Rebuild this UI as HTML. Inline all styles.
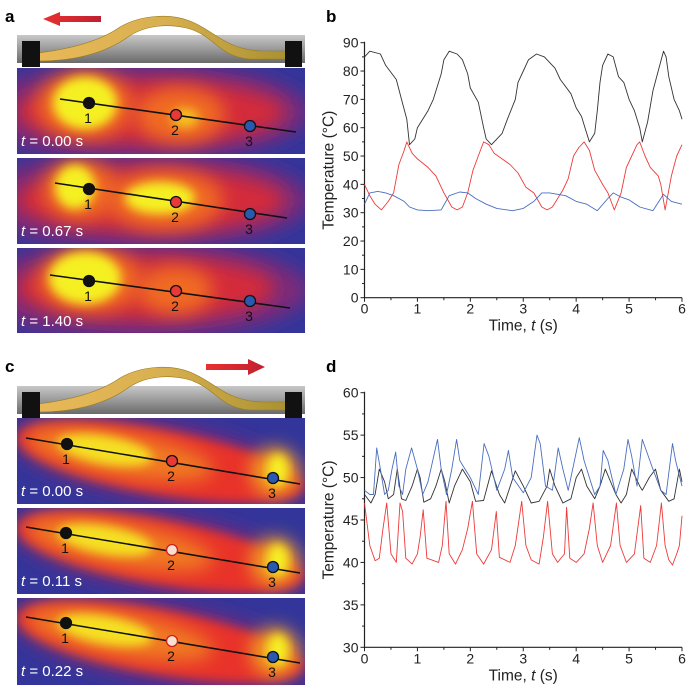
<!DOCTYPE html>
<html><head><meta charset="utf-8"><style>
html,body{margin:0;padding:0;background:#fff;}
svg{display:block;font-family:"Liberation Sans",sans-serif;}
</style></head><body>
<svg id="fig" width="700" height="691" viewBox="0 0 700 691" xmlns="http://www.w3.org/2000/svg">
<defs>
<filter id="blur8" x="-30%" y="-60%" width="160%" height="220%"><feGaussianBlur stdDeviation="9"/></filter>
<filter id="blur5" x="-30%" y="-60%" width="160%" height="220%"><feGaussianBlur stdDeviation="5"/></filter>
<linearGradient id="base" x1="0" y1="0" x2="0" y2="1"><stop offset="0" stop-color="#c8c8c8"/><stop offset="0.5" stop-color="#9a9a9a"/><stop offset="1" stop-color="#6a6a6a"/></linearGradient>
<linearGradient id="rib" x1="0" y1="0" x2="1" y2="0"><stop offset="0" stop-color="#e8b858"/><stop offset="0.5" stop-color="#d8b050"/><stop offset="1" stop-color="#a89030"/></linearGradient>
<linearGradient id="arrowL" x1="0" y1="0" x2="1" y2="0"><stop offset="0" stop-color="#e83030"/><stop offset="1" stop-color="#c02030"/></linearGradient>
<clipPath id="c1"><rect x="17" y="68" width="288" height="86"/></clipPath>
<clipPath id="c2"><rect x="17" y="158" width="288" height="86"/></clipPath>
<clipPath id="c3"><rect x="17" y="248" width="288" height="85"/></clipPath>
<clipPath id="c4"><rect x="17" y="418" width="288" height="86"/></clipPath>
<clipPath id="c5"><rect x="17" y="508" width="288" height="86"/></clipPath>
<clipPath id="c6"><rect x="17" y="598" width="288" height="87"/></clipPath>
</defs>

<text x="5" y="22" font-size="17" font-weight="bold">a</text>
<text x="326" y="22" font-size="17" font-weight="bold">b</text>
<text x="5" y="372" font-size="17" font-weight="bold">c</text>
<text x="326" y="372" font-size="17" font-weight="bold">d</text>

<g id="devA"></g>
<g id="devC"></g>
<g id="thermal"></g>
<g id="chartB"></g>
<g id="chartD"></g>
</svg>
<script>
// ---------- Chart b data ----------
const bXTicks = [0,1,2,3,4,5,6];
const bYTicks = [0,10,20,30,40,50,60,70,80,90];
const bBlackT = [0,0.1,0.3,0.4,0.6,0.7,0.8,0.85,0.95,1.0,1.2,1.3,1.45,1.5,1.6,1.75,1.85,1.95,2.0,2.15,2.25,2.3,2.4,2.6,2.7,2.85,2.9,3.0,3.1,3.25,3.4,3.6,3.7,3.9,4.0,4.1,4.15,4.25,4.35,4.4,4.45,4.5,4.6,4.7,4.8,4.9,5.0,5.1,5.2,5.25,5.35,5.45,5.55,5.65,5.7,5.75,5.85,5.95,6.0];
const bBlackV = [85,87,86,82,77,70,63,54,56,60,66,70,79,84,87,86,84,79,74,69,60,56,54,58,63,70,76,80,84,86,85,81,77,72,67,64,61,55,58,66,76,82,86,85,78,76,70,66,60,55,62,73,80,87,85,78,70,66,63];
const bRedT = [0,0.1,0.2,0.32,0.45,0.55,0.65,0.75,0.8,0.9,1.0,1.2,1.35,1.5,1.65,1.75,1.85,1.95,2.05,2.15,2.25,2.35,2.45,2.6,2.75,2.9,3.05,3.2,3.35,3.45,3.55,3.75,3.85,3.95,4.05,4.15,4.25,4.35,4.5,4.6,4.72,4.85,4.95,5.05,5.15,5.2,5.3,5.4,5.55,5.6,5.68,5.8,5.9,6.0];
const bRedV = [40,36,33,31,34,37,47,52,55,51,49,46,43,37,32,31,32,37,45,50,55,54,51,49,47,44,39,37,32,31,32,38,42,50,53,55,52,45,40,37,31,37,46,50,54,55,50,46,43,40,31,43,50,54];
const bBlueT = [0,0.1,0.25,0.4,0.55,0.75,0.85,1.0,1.2,1.45,1.6,1.8,1.95,2.1,2.3,2.5,2.8,3.0,3.2,3.35,3.5,3.8,4.0,4.2,4.4,4.6,4.7,4.85,5.0,5.2,5.45,5.65,5.8,6.0];
const bBlueV = [33,37,37.5,37,36,34,32,31,30.7,31,36,37.3,37,35,33,31.5,30.7,31.5,34,37,37,36,34,33,30.7,35,37,35.5,34.5,32,30.7,36.5,34,33];

// ---------- Chart d data ----------
const dXTicks = [0,1,2,3,4,5,6];
const dYTicks = [30,35,40,45,50,55,60];
const dRedT = [0,0.1,0.2,0.28,0.35,0.42,0.5,0.6,0.67,0.72,0.78,0.9,1.0,1.05,1.11,1.18,1.4,1.47,1.54,1.6,1.72,1.85,1.95,2.04,2.12,2.25,2.4,2.49,2.55,2.75,2.85,2.97,3.05,3.15,3.3,3.38,3.46,3.55,3.65,3.78,3.82,3.88,4.0,4.15,4.25,4.32,4.4,4.5,4.65,4.76,4.83,4.95,5.1,5.22,5.28,5.4,5.52,5.61,5.68,5.75,5.82,5.9,5.95,6.0];
const dRedV = [47,42,40.2,40.5,44,47,41,40,47,46,40.5,39.8,41,43,46.2,40.5,40,42,47.2,41,39.8,41.5,44,47.2,41,39.8,41.5,46,40.6,40,42,47.2,42,40.3,39.8,43,47.2,41,40,41,46.5,40.5,40,41,44,47,42,40,42,47,42,40,41,46.7,40.5,40,42,47,42,40.3,39.7,41,42,45.5];
const dBlueT = [0,0.1,0.17,0.23,0.3,0.38,0.45,0.52,0.59,0.65,0.72,0.78,0.89,1.0,1.1,1.2,1.38,1.45,1.55,1.65,1.74,1.8,2.0,2.15,2.26,2.35,2.5,2.65,2.72,2.8,3.0,3.15,3.26,3.32,3.42,3.55,3.66,3.75,3.85,4.06,4.15,4.35,4.45,4.51,4.6,4.75,4.9,4.98,5.05,5.15,5.25,5.45,5.6,5.7,5.82,5.88,6.0];
const dBlueV = [48.5,48,48,53.5,51,48,48.5,51,53,49,48,51,53.5,51,48,49.5,54.5,51,48,51,54.5,52,50,48,54,52.5,48.5,51,53.2,50,48.2,50,55,54,49,48.5,53.5,51,48.5,54.7,52,48,49,53.2,52,48,51,54.5,52.5,49,54.5,51,48.5,48,54,52,49];
const dBlackT = [0,0.12,0.2,0.28,0.38,0.45,0.55,0.62,0.7,0.78,0.9,1.0,1.05,1.12,1.25,1.35,1.45,1.52,1.6,1.7,1.85,2.0,2.1,2.25,2.4,2.55,2.65,2.85,3.0,3.15,3.3,3.45,3.5,3.6,3.75,3.9,4.0,4.1,4.2,4.35,4.45,4.55,4.75,4.85,4.95,5.05,5.2,5.25,5.38,5.5,5.6,5.75,5.85,5.95,6.0];
const dBlackV = [48,47,48,51,49.5,47.5,48,51,47.5,47.3,49,51,50,47.1,47.5,49,51,49.5,47,49,51,49.5,47.2,47.3,50.8,48,47,50.8,49,47,47.2,49,51,49,47,47.5,50,51,49,47.5,49,51,48,47,48,51,49,48.5,50,51,48.5,47.2,47.5,51,49.5];

const NS = "http://www.w3.org/2000/svg";
function mk(tag, attrs, parent){const e=document.createElementNS(NS,tag);for(const k in attrs)e.setAttribute(k,attrs[k]);if(parent)parent.appendChild(e);return e;}

function drawChart(g, cfg){
  const X0=364.5, X1=682, Y0=cfg.yBottom, Y1=cfg.yTop;
  const sx=t=>X0+(t-0)/(6-0)*(X1-X0);
  const sy=v=>Y0-(v-cfg.yMin)/(cfg.yMax-cfg.yMin)*(Y0-Y1);
  const axis=mk('path',{d:`M${X0},${Y1-1}V${Y0}H${X1}`,stroke:'#222',fill:'none','stroke-width':1.2},g);
  
  
  cfg.xTicks.forEach(t=>{
    const tk=mk('line',{x1:sx(t),x2:sx(t),y1:Y0,y2:Y0+4,stroke:'#222'},g);
    
    
    const lb=mk('text',{x:sx(t),y:Y0+16,'text-anchor':'middle','font-size':14,fill:'#222'},g);
    
    
    lb.textContent=t;
    if(t<6){const m=mk('line',{x1:sx(t+0.5),x2:sx(t+0.5),y1:Y0,y2:Y0+2.5,stroke:'#222'},g);
      
      }
  });
  cfg.yTicks.forEach((v,i)=>{
    const tk=mk('line',{x1:X0-4,x2:X0,y1:sy(v),y2:sy(v),stroke:'#222'},g);
    
    
    const lb=mk('text',{x:X0-6,y:sy(v)+5,'text-anchor':'end','font-size':14,fill:'#222'},g);
    
    
    lb.textContent=v;
    if(i<cfg.yTicks.length-1){const mv=(v+cfg.yTicks[i+1])/2;
      const m=mk('line',{x1:X0-2.5,x2:X0,y1:sy(mv),y2:sy(mv),stroke:'#222'},g);
      
      }
  });
  const xt=mk('text',{x:(X0+X1)/2,y:Y0+33,'text-anchor':'middle','font-size':15.5,fill:'#222'},g);
  
  
  xt.innerHTML='Time, <tspan font-style="italic">t</tspan> (s)';
  const yt=mk('text',{x:0,y:0,'text-anchor':'middle','font-size':15.5,fill:'#222',transform:`translate(${X0-31},${(Y0+Y1)/2}) rotate(-90)`},g);
  
  
  yt.textContent='Temperature (°C)';
  cfg.series.forEach(s=>{
    const d=s.t.map((t,i)=>(i?'L':'M')+sx(t).toFixed(1)+','+sy(s.v[i]).toFixed(1)).join('');
    const p=mk('path',{d:d,stroke:s.color,fill:'none','stroke-width':0.9,'stroke-linejoin':'round'},g);
    
    
  });
}
drawChart(document.getElementById('chartB'),{yBottom:297.7,yTop:42.7,yMin:0,yMax:90,xTicks:bXTicks,yTicks:bYTicks,
  series:[{t:bBlackT,v:bBlackV,color:'#333',name:'series-point-1'},{t:bRedT,v:bRedV,color:'#ee3a3a',name:'series-point-2'},{t:bBlueT,v:bBlueV,color:'#4a6ec0',name:'series-point-3'}]});
drawChart(document.getElementById('chartD'),{yBottom:647.3,yTop:392.7,yMin:30,yMax:60,xTicks:dXTicks,yTicks:dYTicks,
  series:[{t:dRedT,v:dRedV,color:'#ee3a3a',name:'series-point-2'},{t:dBlackT,v:dBlackV,color:'#333',name:'series-point-1'},{t:dBlueT,v:dBlueV,color:'#4a6ec0',name:'series-point-3'}]});

// ---------- device illustrations ----------
function device(g, y0, arrowDir){
  const base=mk('rect',{x:17,y:y0+30,width:288,height:28,fill:'url(#base)'},g);
  
  
  const rib=mk('path',{d:`M38,${y0+48} C70,${y0+44} 100,${y0+36} 120,${y0+22} C140,${y0+10} 170,${y0+8} 190,${y0+16} C215,${y0+26} 225,${y0+44} 260,${y0+46} L290,${y0+46} L290,${y0+54} L250,${y0+54} C220,${y0+52} 215,${y0+32} 190,${y0+24} C170,${y0+18} 145,${y0+20} 128,${y0+32} C108,${y0+46} 80,${y0+56} 38,${y0+56} Z`,fill:'url(#rib)',stroke:'#9a7a20','stroke-width':0.6},g);
  
  
  const c1=mk('rect',{x:22,y:y0+36,width:18,height:26,fill:'#111'},g);
  
  
  const c2=mk('rect',{x:285,y:y0+36,width:17,height:26,fill:'#111'},g);
  
  
  let ap;
  if(arrowDir<0) ap=`M101,${y0+11} L60,${y0+11} L60,${y0+7} L43,${y0+14} L60,${y0+21} L60,${y0+17} L101,${y0+17} Z`;
  else ap=`M206,${y0+8} L248,${y0+8} L248,${y0+3} L265,${y0+11} L248,${y0+19} L248,${y0+14} L206,${y0+14} Z`;
  const ar=mk('path',{d:ap,fill:'url(#arrowL)'},g);
  
  
}
device(document.getElementById('devA'),5,-1);
device(document.getElementById('devC'),356,1);

// ---------- thermal images ----------
const TH=document.getElementById('thermal');
function thermal(clip, y, tlabel, blobs, pts, line, hollow2){
  const g=mk('g',{'clip-path':`url(#${clip})`},TH);
  
  
  mk('rect',{x:17,y:y,width:288,height:87,fill:'#33359a'},g);
  blobs.forEach(b=>{
    mk('ellipse',{cx:b[0],cy:b[1],rx:b[2],ry:b[3],fill:b[4],filter:b[5]?'url(#blur5)':'url(#blur8)',transform:`rotate(${b[6]||0} ${b[0]} ${b[1]})`},g);
  });
  const ln=mk('line',{x1:line[0],y1:line[1],x2:line[2],y2:line[3],stroke:'#111','stroke-width':1.6},TH);
  
  
  const cols=['#111',hollow2?'#f8e0d0':'#e83838','#2a5ab0'];
  pts.forEach((p,i)=>{
    const c=mk('circle',{cx:p[0],cy:p[1],r:5.5,fill:cols[i],stroke:(i==1&&hollow2)?'#d02020':'#111','stroke-width':1.3},TH);
    
    
    const t=mk('text',{x:p[0]-1,y:p[1]+20,'text-anchor':'middle','font-size':14,fill:'#111'},TH);
    
    
    t.textContent=i+1;
  });
  const tl=mk('text',{x:21,y:y+78,'font-size':15,fill:'#fff'},TH);
  
  
  tl.innerHTML='<tspan font-style="italic">t</tspan> = '+tlabel;
}
// panel a
thermal('c1',68,'0.00 s',[[140,112,170,48,'#7a2a7a'],[150,112,135,32,'#d42a3a'],[85,105,48,34,'#f06a20'],[180,115,45,28,'#f06a20'],[85,103,32,26,'#f5f020',1],[185,118,14,10,'#f5c020',1]],[[89,103],[176,115],[250,126]],[60,99,296,132]);
thermal('c2',158,'0.67 s',[[140,200,170,48,'#7a2a7a'],[150,200,135,32,'#d42a3a'],[80,190,38,30,'#f06a20'],[165,200,58,30,'#f06a20'],[75,187,20,22,'#f5f020',1],[160,198,35,16,'#f5f020',1]],[[89,189],[176,202],[250,214]],[55,183,287,218]);
thermal('c3',248,'1.40 s',[[140,290,170,48,'#7a2a7a'],[145,288,130,32,'#d42a3a'],[90,280,52,32,'#f06a20'],[85,278,36,26,'#f5f020',1],[175,290,38,24,'#f06a20']],[[89,281],[176,291],[250,301]],[50,275,290,308]);
// panel c
const cBlobs=(cy)=>[[160,cy,152,42,'#6a2a80',0,10],[160,cy,145,32,'#e8302a',1,10],[120,cy-8,95,22,'#f07a20',0,10],[275,cy+10,24,24,'#f0a020'],[105,cy-12,48,14,'#f5e020',1,10],[278,cy+8,10,16,'#f5f020',1]];
thermal('c4',418,'0.00 s',cBlobs(462),[[67,444],[172,461],[273,478]],[26,438,300,484]);
thermal('c5',508,'0.11 s',cBlobs(552),[[66,533],[172,550],[273,567]],[26,527,300,573],true);
thermal('c6',598,'0.22 s',cBlobs(642),[[66,623],[172,641],[273,657]],[26,617,300,663],true);
</script>
</body></html>
